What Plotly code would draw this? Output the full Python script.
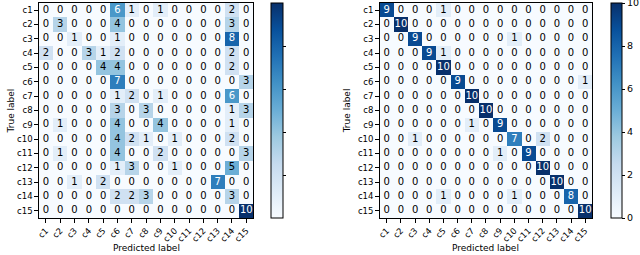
import plotly.graph_objects as go

labels = [f"c{i}" for i in range(1, 16)]

cm_left = [
    [0, 0, 0, 0, 0, 6, 1, 0, 1, 0, 0, 0, 0, 2, 0],
    [0, 3, 0, 0, 0, 4, 0, 0, 0, 0, 0, 0, 0, 3, 0],
    [0, 0, 1, 0, 0, 1, 0, 0, 0, 0, 0, 0, 0, 8, 0],
    [2, 0, 0, 3, 1, 2, 0, 0, 0, 0, 0, 0, 0, 2, 0],
    [0, 0, 0, 0, 4, 4, 0, 0, 0, 0, 0, 0, 0, 2, 0],
    [0, 0, 0, 0, 0, 7, 0, 0, 0, 0, 0, 0, 0, 0, 3],
    [0, 0, 0, 0, 0, 1, 2, 0, 1, 0, 0, 0, 0, 6, 0],
    [0, 0, 0, 0, 0, 3, 0, 3, 0, 0, 0, 0, 0, 1, 3],
    [0, 1, 0, 0, 0, 4, 0, 0, 4, 0, 0, 0, 0, 1, 0],
    [0, 0, 0, 0, 0, 4, 2, 1, 0, 1, 0, 0, 0, 2, 0],
    [0, 1, 0, 0, 0, 4, 0, 0, 2, 0, 0, 0, 0, 0, 3],
    [0, 0, 0, 0, 0, 1, 3, 0, 0, 1, 0, 0, 0, 5, 0],
    [0, 0, 1, 0, 2, 0, 0, 0, 0, 0, 0, 0, 7, 0, 0],
    [0, 0, 0, 0, 0, 2, 2, 3, 0, 0, 0, 0, 0, 3, 0],
    [0, 0, 0, 0, 0, 0, 0, 0, 0, 0, 0, 0, 0, 0, 10],
]

cm_right = [
    [9, 0, 0, 0, 1, 0, 0, 0, 0, 0, 0, 0, 0, 0, 0],
    [0, 10, 0, 0, 0, 0, 0, 0, 0, 0, 0, 0, 0, 0, 0],
    [0, 0, 9, 0, 0, 0, 0, 0, 0, 1, 0, 0, 0, 0, 0],
    [0, 0, 0, 9, 1, 0, 0, 0, 0, 0, 0, 0, 0, 0, 0],
    [0, 0, 0, 0, 10, 0, 0, 0, 0, 0, 0, 0, 0, 0, 0],
    [0, 0, 0, 0, 0, 9, 0, 0, 0, 0, 0, 0, 0, 0, 1],
    [0, 0, 0, 0, 0, 0, 10, 0, 0, 0, 0, 0, 0, 0, 0],
    [0, 0, 0, 0, 0, 0, 0, 10, 0, 0, 0, 0, 0, 0, 0],
    [0, 0, 0, 0, 0, 0, 1, 0, 9, 0, 0, 0, 0, 0, 0],
    [0, 0, 1, 0, 0, 0, 0, 0, 0, 7, 0, 2, 0, 0, 0],
    [0, 0, 0, 0, 0, 0, 0, 0, 1, 0, 9, 0, 0, 0, 0],
    [0, 0, 0, 0, 0, 0, 0, 0, 0, 0, 0, 10, 0, 0, 0],
    [0, 0, 0, 0, 0, 0, 0, 0, 0, 0, 0, 0, 10, 0, 0],
    [0, 0, 0, 0, 1, 0, 0, 0, 0, 1, 0, 0, 0, 8, 0],
    [0, 0, 0, 0, 0, 0, 0, 0, 0, 0, 0, 0, 0, 0, 10],
]

colorbar_ticks = [0, 2, 4, 6, 8, 10]

blues = [
    [0.0, "rgb(247,251,255)"], [0.125, "rgb(222,235,247)"], [0.25, "rgb(198,219,239)"],
    [0.375, "rgb(158,202,225)"], [0.5, "rgb(107,174,214)"], [0.625, "rgb(66,146,198)"],
    [0.75, "rgb(33,113,181)"], [0.875, "rgb(8,81,156)"], [1.0, "rgb(8,48,107)"],
]

FONT = "DejaVu Sans"
W, H = 640, 255

fig = go.Figure()

def add_matrix(cm, xa, ya, cax):
    fig.add_trace(go.Heatmap(z=cm, x=labels, y=labels, coloraxis=cax,
                             xaxis=xa, yaxis=ya, hoverinfo="skip"))
    vmax = max(max(r) for r in cm)
    xs, ys, ts, cs = [], [], [], []
    for i, row in enumerate(cm):
        for j, v in enumerate(row):
            xs.append(labels[j]); ys.append(labels[i]); ts.append(str(v))
            cs.append("white" if v > vmax / 2 else "black")
    fig.add_trace(go.Scatter(x=xs, y=ys, text=ts, mode="text", xaxis=xa, yaxis=ya,
                             textfont=dict(family=FONT, size=10, color=cs),
                             hoverinfo="skip", showlegend=False))

add_matrix(cm_left, "x", "y", "coloraxis")
add_matrix(cm_right, "x2", "y2", "coloraxis2")

ytop = 1 - 3 / H
ybot = 1 - 218 / H
n = len(labels)

axis_common = dict(showline=True, mirror=True, linecolor="black", linewidth=1,
                   ticks="outside", ticklen=3.5, tickwidth=0.8, tickcolor="black",
                   tickfont=dict(family=FONT, size=8.5, color="black"),
                   showgrid=False, zeroline=False, type="category")

title_font = dict(family=FONT, size=9, color="black")
xr = [-0.5, n - 0.5]
yr = [n - 0.5, -0.5]
CMAX = 10

fig.update_layout(
    width=W, height=H, margin=dict(l=0, r=0, t=0, b=0),
    paper_bgcolor="white", plot_bgcolor="white", showlegend=False,
    xaxis=dict(domain=[36 / W, 252 / W], anchor="y", tickangle=-45, range=xr, **axis_common),
    yaxis=dict(domain=[ybot, ytop], anchor="x", range=yr, **axis_common),
    xaxis2=dict(domain=[379 / W, 593 / W], anchor="y2", tickangle=-45, range=xr, **axis_common),
    yaxis2=dict(domain=[ybot, ytop], anchor="x2", range=yr, **axis_common),
    coloraxis=dict(colorscale=blues, cmin=0, cmax=CMAX,
                   colorbar=dict(x=270 / W, xanchor="left", y=ytop, yanchor="top",
                                 len=ytop - ybot, lenmode="fraction", thickness=12,
                                 outlinecolor="black", outlinewidth=1,
                                 ticks="outside", ticklen=3, tickcolor="black",
                                 tickvals=colorbar_ticks[1:-1], showticklabels=False,
                                 xpad=0, ypad=0)),
    coloraxis2=dict(colorscale=blues, cmin=0, cmax=CMAX,
                    colorbar=dict(x=612 / W, xanchor="left", y=ytop, yanchor="top",
                                  len=ytop - ybot, lenmode="fraction", thickness=11,
                                  outlinecolor="black", outlinewidth=1,
                                  ticks="outside", ticklen=3, tickcolor="black",
                                  tickvals=colorbar_ticks, ticklabeloverflow="allow",
                                  tickfont=dict(family=FONT, size=9.5, color="black"),
                                  xpad=0, ypad=0)),
    annotations=[
        dict(text="Predicted label", xref="paper", yref="paper", x=144 / W, y=1 - 248 / H,
             showarrow=False, font=title_font, xanchor="center", yanchor="middle"),
        dict(text="Predicted label", xref="paper", yref="paper", x=486 / W, y=1 - 248 / H,
             showarrow=False, font=title_font, xanchor="center", yanchor="middle"),
        dict(text="True label", xref="paper", yref="paper", x=8 / W, y=(ytop + ybot) / 2,
             showarrow=False, font=title_font, textangle=-90, xanchor="center", yanchor="middle"),
        dict(text="True label", xref="paper", yref="paper", x=346 / W, y=(ytop + ybot) / 2,
             showarrow=False, font=title_font, textangle=-90, xanchor="center", yanchor="middle"),
    ],
)

fig.write_html("out.html", config={"displayModeBar": False},
               post_script="document.body.style.margin='0';document.body.style.overflow='hidden';")
